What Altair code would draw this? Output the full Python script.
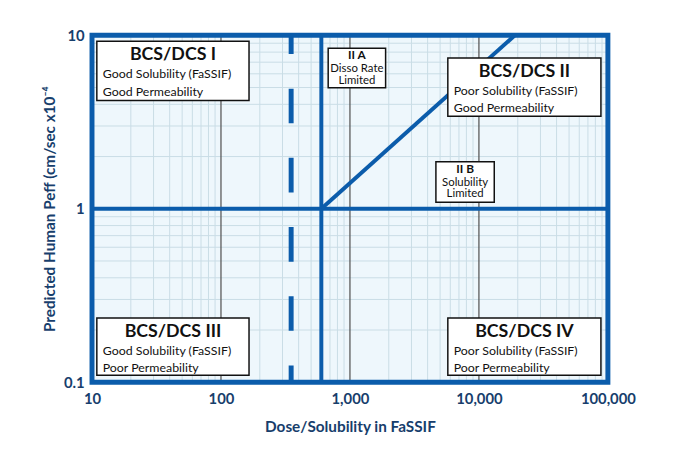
import altair as alt
import pandas as pd

BLUE = "#0b5cab"
NAVY = "#173e6c"
BG = "#eef7fc"
MINOR = "#c9dde6"
MAJOR = "#5a5a5a"
FONT = "Lato"

# axes
x_ticks = [10, 100, 1000, 10000, 100000]
y_ticks = [0.1, 1, 10]
x_major_grid = [100, 1000, 10000]
x_minor_grid = [m * d for d in (10, 100, 1000, 10000) for m in range(2, 10)]
y_minor_grid = [m * d for d in (0.1, 1) for m in range(2, 10)]

# class boundaries
boundary_y = [1]
boundary_x = [600]
dashed_x = [350]
diag_x = [600, 19000]
diag_y = [1, 10]

# big class boxes
box_titles = ["BCS/DCS I", "BCS/DCS II", "BCS/DCS III", "BCS/DCS IV"]
box_line1 = ["Good Solubility (FaSSIF)", "Poor Solubility (FaSSIF)",
             "Good Solubility (FaSSIF)", "Poor Solubility (FaSSIF)"]
box_line2 = ["Good Permeability", "Good Permeability",
             "Poor Permeability", "Poor Permeability"]
box_x1 = [10.9, 5740, 10.9, 5740]
box_x2 = [165, 88300, 165, 88300]
box_top = [9.24, 7.40, 0.2347, 0.2347]
box_bottom = [4.21, 3.41, 0.1096, 0.1096]

# small sub-class boxes
sub_titles = ["II A", "II B"]
sub_line1 = ["Disso Rate", "Solubility"]
sub_line2 = ["Limited", "Limited"]
sub_x1 = [678, 4640]
sub_x2 = [1890, 13150]
sub_top = [8.43, 1.865]
sub_bottom = [4.99, 1.089]

border_x = [10, 100000]
border_y = [0.1, 10]

xs = alt.Scale(type="log", domain=[10, 100000], nice=False)
ys = alt.Scale(type="log", domain=[0.1, 10], nice=False)

boxes = pd.DataFrame({"x1": box_x1, "x2": box_x2, "top": box_top, "bottom": box_bottom,
                      "title": box_titles, "l1": box_line1, "l2": box_line2})
subs = pd.DataFrame({"x1": sub_x1, "x2": sub_x2, "top": sub_top, "bottom": sub_bottom,
                     "title": sub_titles, "l1": sub_line1, "l2": sub_line2})
frame = pd.DataFrame({"x1": [border_x[0]], "x2": [border_x[1]],
                      "y1": [border_y[0]], "y2": [border_y[1]]})

axis_common = dict(grid=False, ticks=False, domain=False, labelFont=FONT, labelFontSize=15,
                   labelFontWeight="bold", labelColor=NAVY, labelOverlap=False,
                   labelFlush=False, titleFont=FONT, titleFontSize=15.5, titleFontWeight="bold",
                   titleColor=NAVY, format=",")

axes_layer = alt.Chart(frame).mark_rect(opacity=0).encode(
    x=alt.X("x1:Q", scale=xs, axis=alt.Axis(values=x_ticks, title="Dose/Solubility in FaSSIF",
                                            labelPadding=10, titlePadding=13, **axis_common)),
    x2="x2:Q",
    y=alt.Y("y1:Q", scale=ys, axis=alt.Axis(values=y_ticks,
                                            title="Predicted Human Peff (cm/sec x10⁻⁴",
                                            labelPadding=8, titlePadding=6, **axis_common)),
    y2="y2:Q")

X = lambda f: alt.X(f, scale=xs)
Y = lambda f: alt.Y(f, scale=ys)

gx = alt.Chart(pd.DataFrame({"x": x_minor_grid})).mark_rule(color=MINOR, strokeWidth=1).encode(
    x=X("x:Q"))
gy = alt.Chart(pd.DataFrame({"y": y_minor_grid})).mark_rule(color=MINOR, strokeWidth=1).encode(
    y=Y("y:Q"))
gmaj = alt.Chart(pd.DataFrame({"x": x_major_grid})).mark_rule(color=MAJOR, strokeWidth=1.3).encode(
    x=X("x:Q"))

hline = alt.Chart(pd.DataFrame({"y": boundary_y})).mark_rule(color=BLUE, strokeWidth=4).encode(
    y=Y("y:Q"))
vline = alt.Chart(pd.DataFrame({"x": boundary_x})).mark_rule(color=BLUE, strokeWidth=4).encode(
    x=X("x:Q"))
dline = alt.Chart(pd.DataFrame({"x": dashed_x, "y1": [0.1], "y2": [10]})).mark_rule(
    color=BLUE, strokeWidth=5, strokeDash=[35, 35], strokeDashOffset=18).encode(
    x=X("x:Q"), y=Y("y1:Q"), y2="y2:Q")
diag = alt.Chart(pd.DataFrame({"x": diag_x, "y": diag_y})).mark_line(
    color=BLUE, strokeWidth=4, strokeCap="butt").encode(x=X("x:Q"), y=Y("y:Q"))

def rects(df):
    return alt.Chart(df).mark_rect(fill="white", stroke="#111", strokeWidth=1.5).encode(
        x=X("x1:Q"), x2="x2:Q", y=Y("top:Q"), y2="bottom:Q")

def centered(df, field, dy, size, weight):
    return alt.Chart(df).transform_calculate(xm="sqrt(datum.x1*datum.x2)").mark_text(
        font=FONT, fontSize=size, fontWeight=weight, color="#111", align="center",
        baseline="middle", dy=dy).encode(x=X("xm:Q"), y=Y("top:Q"), text=f"{field}:N")

def lefttext(df, field, dy, size):
    return alt.Chart(df).mark_text(
        font=FONT, fontSize=size, color="#111", align="left",
        baseline="middle", dx=6, dy=dy).encode(x=X("x1:Q"), y=Y("top:Q"), text=f"{field}:N")

border = alt.Chart(frame).mark_rect(fillOpacity=0, stroke=BLUE, strokeWidth=5).encode(
    x=X("x1:Q"), x2="x2:Q", y=Y("y1:Q"), y2="y2:Q")

chart = alt.layer(
    axes_layer,
    gx, gy, gmaj, hline, vline, dline, diag,
    rects(boxes),
    centered(boxes, "title", 14, 18, "bold"),
    lefttext(boxes, "l1", 33, 12.5),
    lefttext(boxes, "l2", 51, 12.5),
    rects(subs),
    centered(subs, "title", 7, 12, "bold"),
    centered(subs, "l1", 21, 11.5, "normal"),
    centered(subs, "l2", 33, 11.5, "normal"),
    border,
).properties(
    width=522, height=351,
    autosize=alt.AutoSizeParams(type="none"),
    padding={"left": 85, "top": 25, "right": 76, "bottom": 70},
).configure_view(stroke=None, fill=BG)

chart.save("out.html", embed_options={"renderer": "svg", "actions": False})
